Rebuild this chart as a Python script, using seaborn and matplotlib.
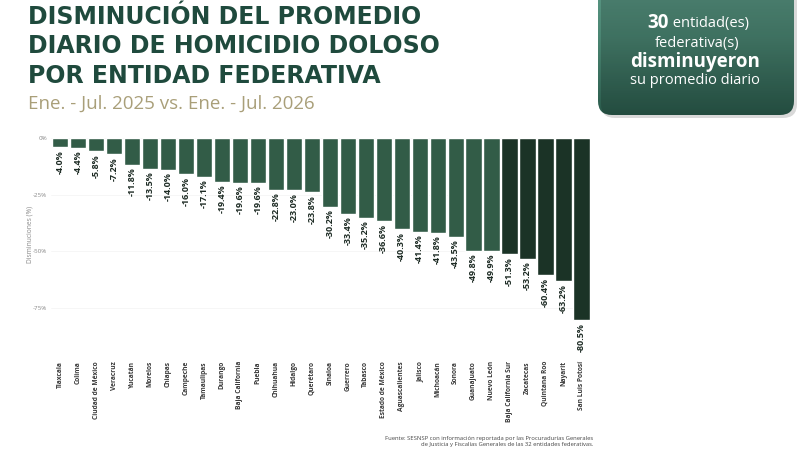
import numpy as np
import pandas as pd
import matplotlib
matplotlib.use("Agg")
import matplotlib.pyplot as plt
from matplotlib.patches import FancyBboxPatch
import seaborn as sns

# data
estados = ["Tlaxcala", "Colima", "Ciudad de México", "Veracruz", "Yucatán", "Morelos",
           "Chiapas", "Campeche", "Tamaulipas", "Durango", "Baja California", "Puebla",
           "Chihuahua", "Hidalgo", "Querétaro", "Sinaloa", "Guerrero", "Tabasco",
           "Estado de México", "Aguascalientes", "Jalisco", "Michoacán", "Sonora",
           "Guanajuato", "Nuevo León", "Baja California Sur", "Zacatecas",
           "Quintana Roo", "Nayarit", "San Luis Potosí"]
cambio = [-4.0, -4.4, -5.8, -7.2, -11.8, -13.5, -14.0, -16.0, -17.1, -19.4, -19.6, -19.6,
          -22.8, -23.0, -23.8, -30.2, -33.4, -35.2, -36.6, -40.3, -41.4, -41.8, -43.5,
          -49.8, -49.9, -51.3, -53.2, -60.4, -63.2, -80.5]
grupo = ["menor"] * 25 + ["mayor"] * 5
y_ticks = [0, -25, -50, -75]
y_ticklabels = ["0%", "-25%", "-50%", "-75%"]

verde = "#325c47"
verde_osc = "#1b3326"
titulo_col = "#1f4a3d"

df = pd.DataFrame({"estado": estados, "cambio": cambio, "grupo": grupo})

sns.set_style("white")
plt.rcParams["font.family"] = ["Open Sans", "DejaVu Sans"]

fig = plt.figure(figsize=(8, 4.5), dpi=100)
ax = fig.add_axes([0.064, 0.21, 0.674, 0.483])

sns.barplot(data=df, x="estado", y="cambio", hue="grupo",
            palette={"menor": verde, "mayor": verde_osc}, width=0.9,
            legend=False, ax=ax, saturation=1)

for i, v in enumerate(cambio):
    ax.text(i, v - 1.2, f"{v:.1f}%", rotation=90, ha="center", va="top",
            fontsize=6.5, fontweight="bold", color="#1d2b24")

ax.set_ylim(-96, 0)
ax.set_xlim(-0.5, len(estados) - 0.5)
ax.set_yticks(y_ticks)
ax.set_yticklabels(y_ticklabels, fontsize=4.5, color="#888888")
ax.tick_params(axis="x", rotation=90, labelsize=4.8, length=0, pad=4)
for t in ax.get_xticklabels():
    t.set_fontweight("bold")
    t.set_color("#3a3a3a")
ax.tick_params(axis="y", length=0, pad=3)
ax.set_xlabel("")
ax.set_ylabel("")
for s in ax.spines.values():
    s.set_visible(False)
ax.grid(axis="y", color="#f3f3f3", linewidth=0.5)
ax.set_axisbelow(True)

fig.text(0.038, 0.48, "Disminuciones (%)", rotation=90, ha="center", va="center",
         fontsize=4.8, color="#888888")

# titles
fig.text(0.035, 0.99, "DISMINUCIÓN DEL PROMEDIO\nDIARIO DE HOMICIDIO DOLOSO\nPOR ENTIDAD FEDERATIVA",
         ha="left", va="top", fontsize=17, fontweight="bold", color=titulo_col,
         family=["DejaVu Sans"], linespacing=1.29)
fig.text(0.035, 0.77, "Ene. - Jul. 2025 vs. Ene. - Jul. 2026", ha="left", va="center",
         fontsize=13.5, color="#a99f79")

# source
fig.text(0.742, 0.007, "Fuente: SESNSP con información reportada por las Procuradurías Generales\n"
         "de Justicia y Fiscalías Generales de las 32 entidades federativas.",
         ha="right", va="bottom", fontsize=4.2, color="#444444", multialignment="right")

# box top right
bx = fig.add_axes([0, 0, 1, 1], zorder=2)
bx.axis("off")
bx.patch.set_alpha(0)
shadow = FancyBboxPatch((601, -40), 196, 158, boxstyle="round,pad=0,rounding_size=14",
                        facecolor="#000000", alpha=0.15, edgecolor="none")
bx.add_patch(shadow)
caja = FancyBboxPatch((598, -40), 196, 155, boxstyle="round,pad=0,rounding_size=14",
                      facecolor="none", edgecolor="none")
bx.add_patch(caja)
grad = np.linspace(0, 1, 256).reshape(-1, 1)
cmap = matplotlib.colors.LinearSegmentedColormap.from_list("g", ["#62a08d", "#4a8572", "#2a5a4b"])
img = bx.imshow(grad, extent=(598, 794, 115, -40), cmap=cmap, aspect="auto", origin="upper")
img.set_clip_path(caja)
bx.set_xlim(0, 800)
bx.set_ylim(450, 0)

bx.text(669, 23, "30", ha="right", va="center", fontsize=13.5, fontweight="bold", color="white")
bx.text(669, 23, " entidad(es)", ha="left", va="center", fontsize=10.5, color="white")
bx.text(697, 43, "federativa(s)", ha="center", va="center", fontsize=10.5, color="white")
bx.text(695, 62, "disminuyeron", ha="center", va="center", fontsize=13.5, fontweight="bold", color="white")
bx.text(695, 81, "su promedio diario", ha="center", va="center", fontsize=10.5, color="white")

fig.savefig("out.png", dpi=100)
